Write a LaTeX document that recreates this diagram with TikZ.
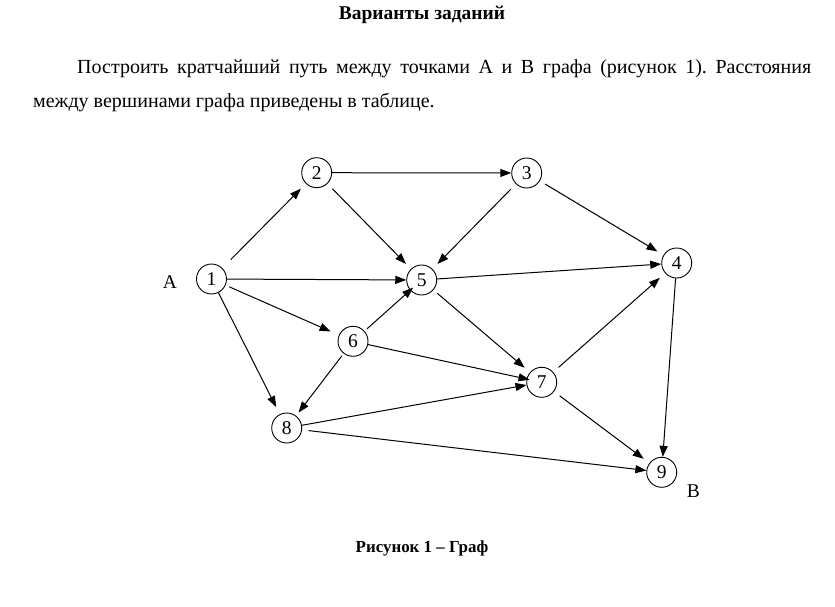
\documentclass[tikz,border=0pt]{standalone}
\usepackage{fontspec}
\setmainfont{Liberation Serif}
\usetikzlibrary{arrows.meta}
\begin{document}
\begin{tikzpicture}[x=1pt,y=-1pt,
  v/.style={draw,circle,minimum size=30pt,inner sep=0pt,line width=0.9pt,font=\fontsize{19.5}{20}\selectfont},
  e/.style={line width=1pt,-{Triangle[length=11pt,width=8pt]}},
  lbl/.style={font=\fontsize{19.5}{20}\selectfont}]
\useasboundingbox (0,0) rectangle (835,607);
\node[anchor=base,font=\bfseries\fontsize{19.5}{20}\selectfont] (title) at (422,20) {Варианты заданий};
\node[anchor=base west,inner sep=0pt,font=\fontsize{20}{22}\selectfont] (l1) at (77,74)
  {\hbox to 734pt{Построить\hfill кратчайший\hfill путь\hfill между\hfill точками\hfill А\hfill и\hfill В\hfill графа\hfill (рисунок\hfill 1).\hfill Расстояния}};
\node[anchor=base west,inner sep=0pt,font=\fontsize{20}{22}\selectfont] (l2) at (33,108)
  {между вершинами графа приведены в таблице.};
\node[v] (n1) at (211.5,279) {1};
\node[v] (n2) at (316.7,172.7) {2};
\node[v] (n3) at (526.7,173) {3};
\node[v] (n4) at (676.7,263) {4};
\node[v] (n5) at (421.7,280) {5};
\node[v] (n6) at (353,341.3) {6};
\node[v] (n7) at (541.7,382.3) {7};
\node[v] (n8) at (286.7,428) {8};
\node[v] (n9) at (661.7,472.3) {9};
\node[lbl] (A) at (170,282) {А};
\node[lbl] (B) at (693.3,491) {В};
\draw[e,shorten <=12pt,shorten >=7pt] (n1) -- (n2);
\draw[e] (n2) -- (n3);
\draw[e,shorten <=7pt,shorten >=7pt] (n2) -- (n5);
\draw[e,shorten <=7pt,shorten >=7pt] (n3) -- (n5);
\draw[e,shorten <=6pt,shorten >=7pt] (n3) -- (n4);
\draw[e] (n1) -- (n5);
\draw[e] (n5) -- (n4);
\draw[e,shorten <=4pt,shorten >=9pt] (n1) -- (n6);
\draw[e,shorten <=3.5pt,shorten >=-4pt] (n6) -- (n5);
\draw[e,shorten >=8pt] (n1) -- (n8);
\draw[e,shorten <=5pt,shorten >=7pt] (n5) -- (n7);
\draw[e,shorten >=-3pt] (n6) -- (n7);
\draw[e,shorten <=3pt,shorten >=4pt] (n6) -- (n8);
\draw[e] (n8) -- (n7);
\draw[e,shorten <=7pt,shorten >=7pt] (n7) -- (n4);
\draw[e,shorten <=7pt,shorten >=7pt] (n7) -- (n9);
\draw[e] (n4) -- (n9);
\draw[e,shorten <=6.5pt] (n8) -- (n9);
\node[anchor=base,font=\bfseries\fontsize{16.9}{18}\selectfont] (cap) at (422,552) {Рисунок 1 – Граф};
\end{tikzpicture}
\end{document}
